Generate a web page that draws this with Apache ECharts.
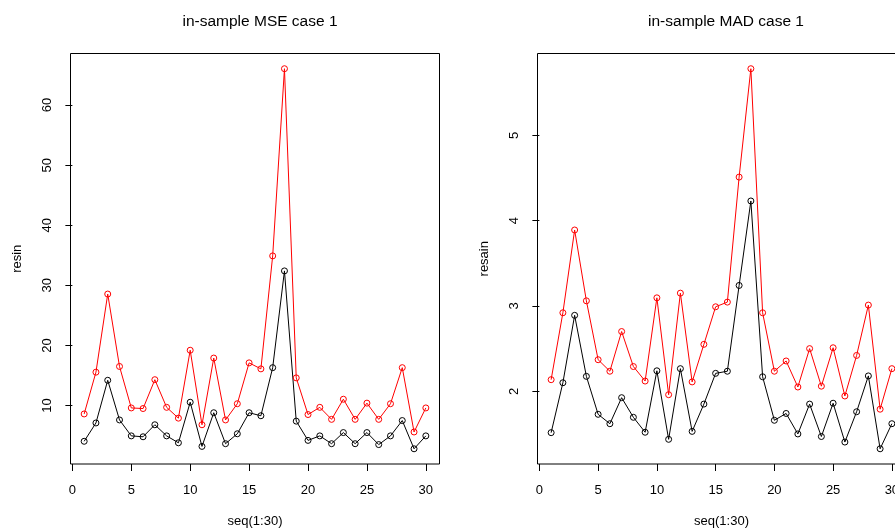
<!DOCTYPE html>
<html>
<head>
<meta charset="utf-8">
<script src="https://cdn.jsdelivr.net/npm/echarts@6/dist/echarts.min.js"></script>
<style>
  html, body { margin: 0; padding: 0; background: #fff; }
  #chart { width: 895px; height: 529px; }
</style>
</head>
<body>
<div id="chart"></div>
<script>
// Index of each in-sample window
const seqIdx = [1,2,3,4,5,6,7,8,9,10,11,12,13,14,15,16,17,18,19,20,21,22,23,24,25,26,27,28,29,30];

// In-sample MSE, case 1
const mseRed   = [8.6,15.55,28.55,16.5,9.6,9.5,14.3,9.7,7.9,19.2,6.8,17.9,7.6,10.3,17.1,16.1,34.9,66.05,14.6,8.5,9.7,7.7,11.05,7.7,10.4,7.7,10.3,16.3,5.6,9.6];
const mseBlack = [4.05,7.1,14.2,7.6,4.95,4.8,6.8,4.95,3.8,10.55,3.2,8.8,3.65,5.3,8.8,8.3,16.3,32.4,7.4,4.2,4.95,3.65,5.5,3.65,5.5,3.5,4.95,7.5,2.8,4.95];

// In-sample MAD, case 1
const madRed   = [2.136,2.92,3.89,3.06,2.37,2.235,2.70,2.29,2.12,3.095,1.96,3.15,2.11,2.55,2.99,3.045,4.51,5.78,2.92,2.235,2.355,2.05,2.50,2.06,2.51,1.945,2.42,3.01,1.79,2.265];
const madBlack = [1.515,2.10,2.89,2.175,1.73,1.62,1.925,1.695,1.52,2.24,1.437,2.265,1.53,1.85,2.21,2.235,3.24,4.23,2.17,1.66,1.74,1.50,1.85,1.47,1.86,1.405,1.76,2.18,1.326,1.62];

// Tick labels
const xTicks   = [0,5,10,15,20,25,30];
const mseTicks = [10,20,30,40,50,60];
const madTicks = [2,3,4,5];

const FONT = "'Liberation Sans', Arial, sans-serif";
const LABEL_SIZE = 13;

// R-style axis range: data range padded by 4% on each side
function padRange(arrs) {
  const all = [].concat(...arrs);
  const lo = Math.min(...all), hi = Math.max(...all);
  const d = (hi - lo) * 0.04;
  return [lo - d, hi + d];
}
const xr = padRange([seqIdx]);
const mseR = padRange([mseRed, mseBlack]);
const madR = padRange([madRed, madBlack]);

function pairs(vals) { return seqIdx.map((x, i) => [x, vals[i]]); }

function xAxisDef(gridIndex) {
  return {
    type: 'value', gridIndex, min: xr[0], max: xr[1],
    name: 'seq(1:30)', nameLocation: 'middle', nameGap: 51,
    nameTextStyle: { fontFamily: FONT, fontSize: LABEL_SIZE, color: '#000', verticalAlign: 'top' },
    splitLine: { show: false },
    axisLine: { show: false },
    axisTick: { show: true, length: 7, customValues: xTicks, lineStyle: { color: '#000', width: 1 } },
    axisLabel: { customValues: xTicks, margin: 20, fontFamily: FONT, fontSize: LABEL_SIZE, color: '#000' }
  };
}
function yAxisDef(gridIndex, range, ticks, name) {
  return {
    type: 'value', gridIndex, min: range[0], max: range[1],
    name, nameLocation: 'middle', nameGap: 47, nameRotate: 90,
    nameTextStyle: { fontFamily: FONT, fontSize: LABEL_SIZE, color: '#000' },
    splitLine: { show: false },
    axisLine: { show: false },
    axisTick: { show: true, length: 7, customValues: ticks, lineStyle: { color: '#000', width: 1 } },
    axisLabel: { customValues: ticks, rotate: 90, margin: 17, fontFamily: FONT, fontSize: LABEL_SIZE, color: '#000' }
  };
}
function seriesDef(idx, vals, color) {
  return {
    type: 'line', xAxisIndex: idx, yAxisIndex: idx, data: pairs(vals),
    symbol: 'circle', symbolSize: 6, animation: false,
    lineStyle: { color, width: 1 },
    itemStyle: { color: 'rgba(0,0,0,0)', borderColor: color, borderWidth: 1 },
    emphasis: { disabled: true }
  };
}

const chart = echarts.init(document.getElementById('chart'), null, { renderer: 'canvas' });
chart.setOption({
  backgroundColor: '#fff',
  animation: false,
  title: [
    { text: 'in-sample MSE case 1', left: 255, top: 9, textAlign: 'center',
      textStyle: { fontFamily: FONT, fontSize: 15.5, fontWeight: 'normal', color: '#000' } },
    { text: 'in-sample MAD case 1', left: 721, top: 9, textAlign: 'center',
      textStyle: { fontFamily: FONT, fontSize: 15.5, fontWeight: 'normal', color: '#000' } }
  ],
  grid: [
    { left: 70.5, width: 369, top: 53.5, bottom: 65, show: true, borderColor: '#000', borderWidth: 1,
      containLabel: false, outerBoundsMode: 'none' },
    { left: 537.5, width: 368, top: 53.5, bottom: 65, show: true, borderColor: '#000', borderWidth: 1,
      containLabel: false, outerBoundsMode: 'none' }
  ],
  xAxis: [xAxisDef(0), xAxisDef(1)],
  yAxis: [yAxisDef(0, mseR, mseTicks, 'resin'), yAxisDef(1, madR, madTicks, 'resain')],
  series: [
    seriesDef(0, mseRed, '#ff0000'),
    seriesDef(0, mseBlack, '#000000'),
    seriesDef(1, madRed, '#ff0000'),
    seriesDef(1, madBlack, '#000000')
  ]
});
</script>
</body>
</html>
